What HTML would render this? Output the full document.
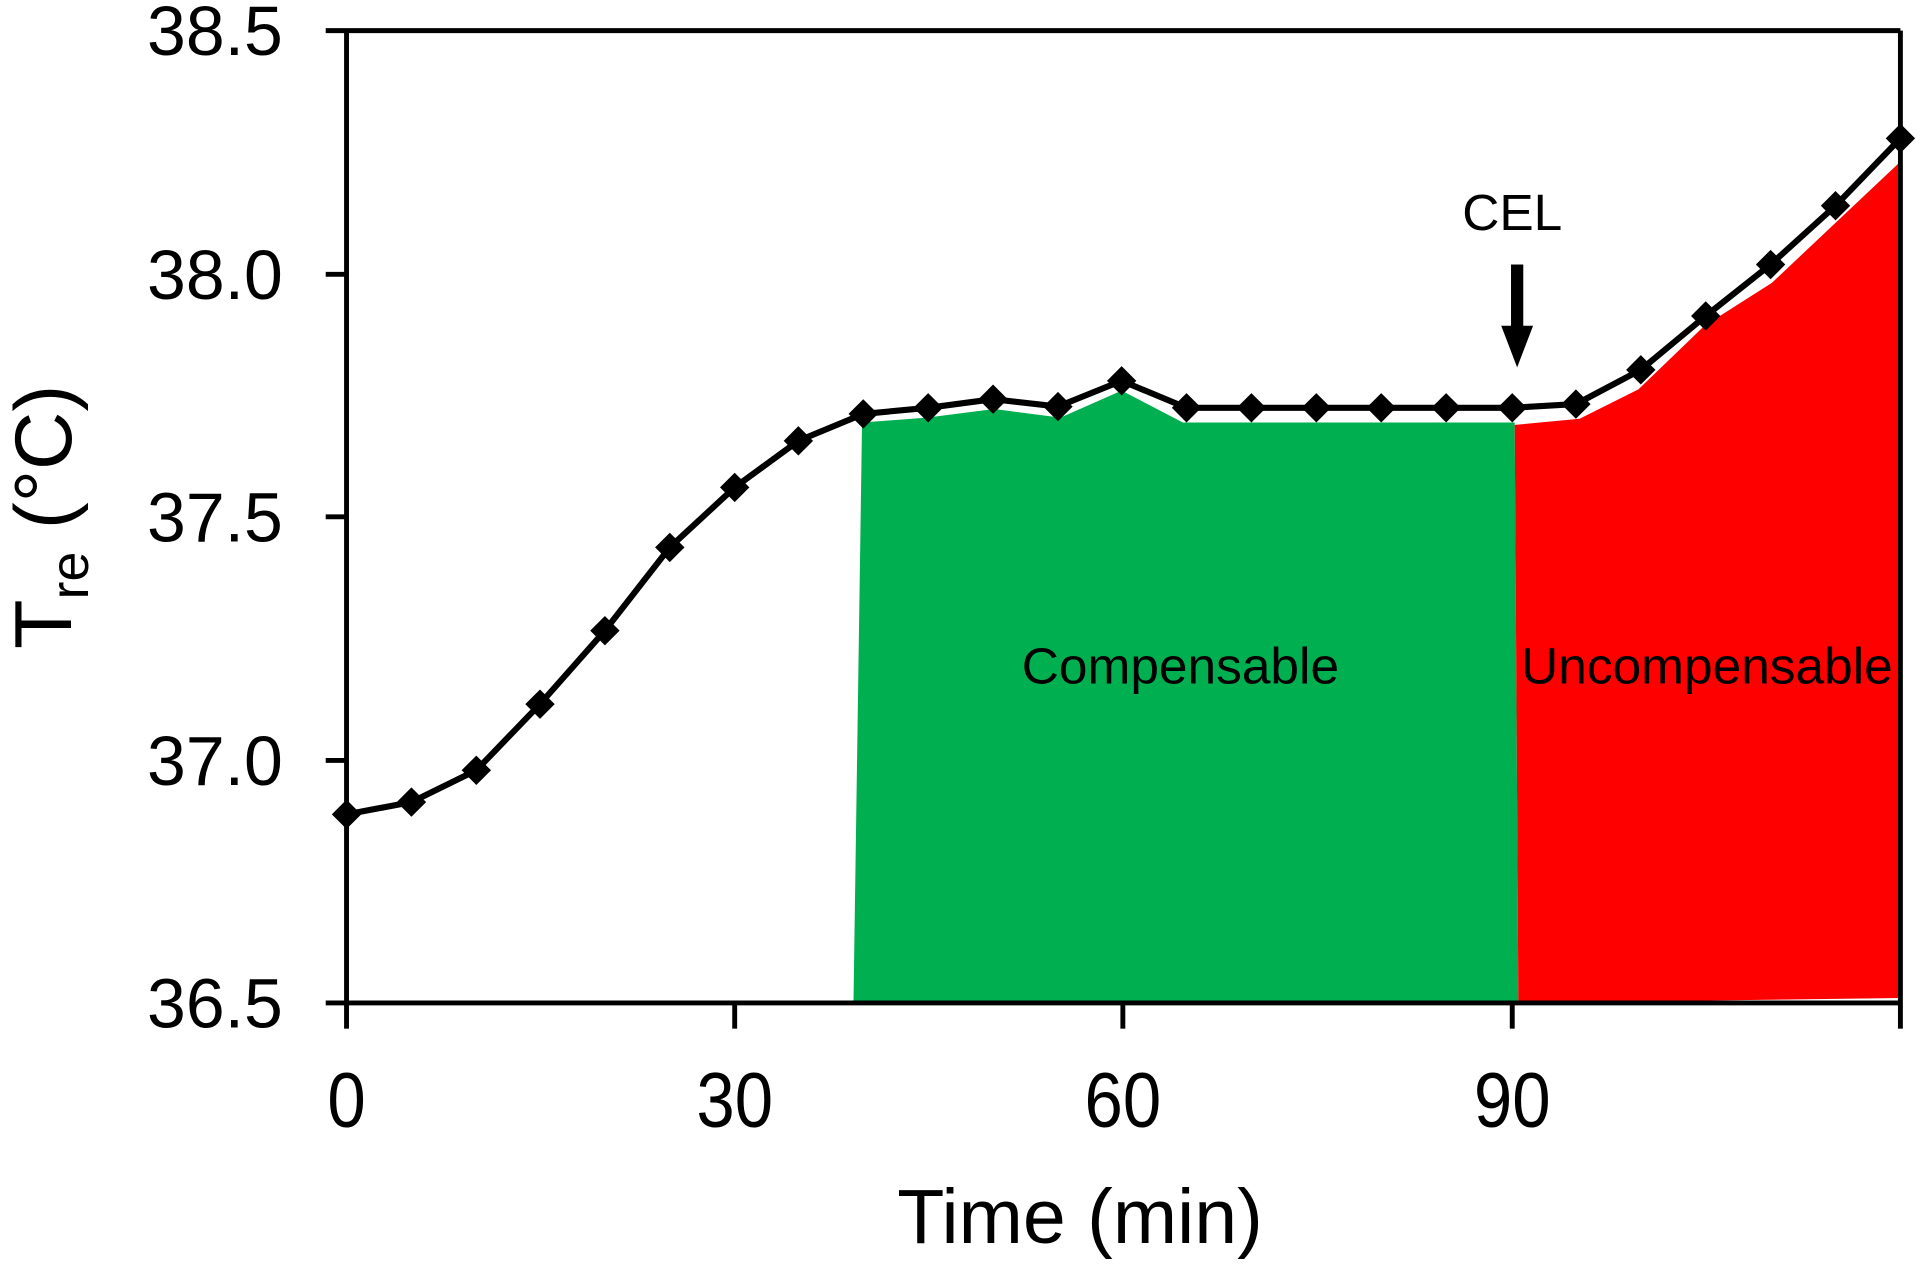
<!DOCTYPE html>
<html><head><meta charset="utf-8"><style>html,body{margin:0;padding:0;background:#fff}svg{display:block}</style></head>
<body>
<svg width="1920" height="1265" viewBox="0 0 1568 1033" preserveAspectRatio="none" xmlns="http://www.w3.org/2000/svg" font-family="Liberation Sans, Arial, sans-serif">
<polygon points="697,819 704,345 757,341 812,334 866,341 916,319 966,345 1237,345 1240,819" fill="#00b050"/>
<polygon points="1237,347 1290,342 1338,318 1392,266 1447,231 1552,132 1552,815 1240,819" fill="#ff0000"/>
<g stroke="#000" stroke-width="4" fill="none">
<line x1="283" y1="25" x2="283" y2="819"/>
<line x1="283" y1="819" x2="1552" y2="819"/>
<line x1="283" y1="25" x2="1552" y2="25"/>
<line x1="1552" y1="25" x2="1552" y2="819"/>
<line x1="266" y1="25" x2="283" y2="25"/><line x1="266" y1="224" x2="283" y2="224"/><line x1="266" y1="422" x2="283" y2="422"/><line x1="266" y1="621" x2="283" y2="621"/><line x1="266" y1="819" x2="283" y2="819"/>
<line x1="283" y1="819" x2="283" y2="840"/><line x1="600" y1="819" x2="600" y2="840"/><line x1="917" y1="819" x2="917" y2="840"/><line x1="1235" y1="819" x2="1235" y2="840"/><line x1="1552" y1="819" x2="1552" y2="840"/>
<polyline stroke-width="5" stroke-linejoin="round" points="283,665 336,655 389,629 441,575 494,515 547,447 600,398 652,360 705,338 758,333 811,326 864,332 916,311 969,333 1022,333 1075,333 1128,333 1181,333 1235,333 1287,330 1340,302 1393,258 1446,216 1499,168 1552,113"/>
</g>
<g fill="#000">
<path d="M283,653 l12,12 l-12,12 l-12,-12z"/><path d="M336,643 l12,12 l-12,12 l-12,-12z"/><path d="M389,617 l12,12 l-12,12 l-12,-12z"/><path d="M441,563 l12,12 l-12,12 l-12,-12z"/><path d="M494,503 l12,12 l-12,12 l-12,-12z"/><path d="M547,435 l12,12 l-12,12 l-12,-12z"/><path d="M600,386 l12,12 l-12,12 l-12,-12z"/><path d="M652,348 l12,12 l-12,12 l-12,-12z"/><path d="M705,326 l12,12 l-12,12 l-12,-12z"/><path d="M758,321 l12,12 l-12,12 l-12,-12z"/><path d="M811,314 l12,12 l-12,12 l-12,-12z"/><path d="M864,320 l12,12 l-12,12 l-12,-12z"/><path d="M916,299 l12,12 l-12,12 l-12,-12z"/><path d="M969,321 l12,12 l-12,12 l-12,-12z"/><path d="M1022,321 l12,12 l-12,12 l-12,-12z"/><path d="M1075,321 l12,12 l-12,12 l-12,-12z"/><path d="M1128,321 l12,12 l-12,12 l-12,-12z"/><path d="M1181,321 l12,12 l-12,12 l-12,-12z"/><path d="M1235,321 l12,12 l-12,12 l-12,-12z"/><path d="M1287,318 l12,12 l-12,12 l-12,-12z"/><path d="M1340,290 l12,12 l-12,12 l-12,-12z"/><path d="M1393,246 l12,12 l-12,12 l-12,-12z"/><path d="M1446,204 l12,12 l-12,12 l-12,-12z"/><path d="M1499,156 l12,12 l-12,12 l-12,-12z"/><path d="M1552,101 l12,12 l-12,12 l-12,-12z"/>
<rect x="1234" y="216" width="10" height="52"/>
<polygon points="1226,266 1252,266 1239,300"/>
<g font-size="57" text-anchor="end">
<text x="231" y="45">38.5</text><text x="231" y="244">38.0</text><text x="231" y="442">37.5</text><text x="231" y="641">37.0</text><text x="231" y="839">36.5</text>
</g>
<g font-size="64" text-anchor="middle">
<text transform="translate(283,920) scale(0.88,1)">0</text><text transform="translate(600,920) scale(0.88,1)">30</text><text transform="translate(917,920) scale(0.88,1)">60</text><text transform="translate(1235,920) scale(0.88,1)">90</text>
</g>
<text x="882" y="1015" font-size="63" text-anchor="middle">Time (min)</text>
<text x="1235" y="188" font-size="42" text-anchor="middle">CEL</text>
<text x="964" y="558" font-size="42" text-anchor="middle">Compensable</text>
<text x="1394" y="558" font-size="42" text-anchor="middle">Uncompensable</text>
<text transform="translate(58,422) rotate(-90)" font-size="66" text-anchor="middle">T<tspan font-size="44" dy="14">re</tspan><tspan dy="-14"> (°C)</tspan></text>
</g>
</svg>
</body></html>
